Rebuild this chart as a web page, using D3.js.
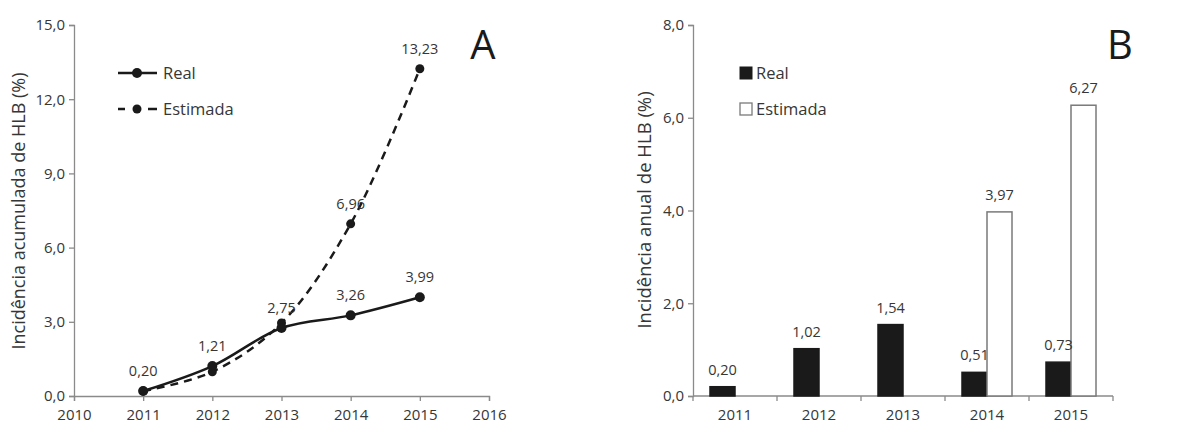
<!DOCTYPE html>
<html lang="pt">
<head>
<meta charset="utf-8">
<title>Incidência de HLB</title>
<script src="https://cdn.jsdelivr.net/npm/d3@7"></script>
<style>
  body { margin: 0; background: #fff; }
  svg text { font-family: "Open Sans", sans-serif; fill: #363636; }
  .axis path, .axis line { stroke: #8a8a8a; stroke-width: 1.3; }
  .axis text { font-size: 15px; }
</style>
</head>
<body>
<svg id="chart" width="1191" height="425"></svg>
<script>
// data
var years = [2011, 2012, 2013, 2014, 2015];
var realCum = [0.20, 1.21, 2.75, 3.26, 3.99];
var estCum = [0.20, 0.98, 2.95, 6.96, 13.23];
var realAnnual = [0.20, 1.02, 1.54, 0.51, 0.73];
var estAnnual = [null, null, null, 3.97, 6.27];
var yTicksA = [0, 3, 6, 9, 12, 15];
var xTicksA = [2010, 2011, 2012, 2013, 2014, 2015, 2016];
var yTicksB = [0, 2, 4, 6, 8];
var seriesNames = ["Real", "Estimada"];

var svg = d3.select("#chart");
var pt = d3.formatLocale({decimal: ",", thousands: ".", grouping: [3], currency: ["", ""]});
var f1 = pt.format(".1f"), f2 = pt.format(".2f");

// ---------- panel A : cumulative incidence ----------
var gA = svg.append("g");
var xA = d3.scaleLinear().domain([2010, 2016]).range([74, 489]);
var yA = d3.scaleLinear().domain([0, 15]).range([396, 25]);

gA.append("g").attr("class", "axis").attr("transform", "translate(0,396)")
  .call(d3.axisBottom(xA).tickValues(xTicksA).tickFormat(d3.format("d")).tickSizeOuter(5).tickSize(5).tickPadding(8));
gA.append("g").attr("class", "axis").attr("transform", "translate(74,0)")
  .call(d3.axisLeft(yA).tickValues(yTicksA).tickFormat(f1).tickSizeOuter(0).tickSize(5).tickPadding(4));

gA.append("text").attr("transform", "translate(25,211) rotate(-90)")
  .attr("text-anchor", "middle").style("font-size", "18px")
  .text("Incidência acumulada de HLB (%)");

var lineA = d3.line().x(function(d, i) { return xA(years[i]); }).y(function(d) { return yA(d); })
  .curve(d3.curveCatmullRom.alpha(0.5));

gA.append("path").datum(estCum).attr("d", lineA).attr("fill", "none")
  .attr("stroke", "#1a1a1a").attr("stroke-width", 2.5).attr("stroke-dasharray", "8,6");
gA.append("path").datum(realCum).attr("d", lineA).attr("fill", "none")
  .attr("stroke", "#1a1a1a").attr("stroke-width", 2.5);

gA.selectAll(".pe").data(estCum).enter().append("circle")
  .attr("cx", function(d, i) { return xA(years[i]); }).attr("cy", function(d) { return yA(d); })
  .attr("r", 4.5).attr("fill", "#1a1a1a");
gA.selectAll(".pr").data(realCum).enter().append("circle")
  .attr("cx", function(d, i) { return xA(years[i]); }).attr("cy", function(d) { return yA(d); })
  .attr("r", 5).attr("fill", "#1a1a1a");

// value labels: every real point, estimated only where it splits off
gA.selectAll(".lr").data(realCum).enter().append("text")
  .attr("x", function(d, i) { return xA(years[i]); }).attr("y", function(d) { return yA(d) - 15; })
  .attr("text-anchor", "middle").style("font-size", "14.5px").text(function(d) { return f2(d); });
gA.selectAll(".le").data(estCum.slice(3)).enter().append("text")
  .attr("x", function(d, i) { return xA(years[i + 3]); }).attr("y", function(d) { return yA(d) - 15; })
  .attr("text-anchor", "middle").style("font-size", "14.5px").text(function(d) { return f2(d); });

// legend A
var legA = gA.append("g");
legA.append("line").attr("x1", 118).attr("x2", 157).attr("y1", 73).attr("y2", 73)
  .attr("stroke", "#1a1a1a").attr("stroke-width", 2.5);
legA.append("circle").attr("cx", 137).attr("cy", 73).attr("r", 5).attr("fill", "#1a1a1a");
legA.append("line").attr("x1", 118).attr("x2", 157).attr("y1", 109).attr("y2", 109)
  .attr("stroke", "#1a1a1a").attr("stroke-width", 2.5).attr("stroke-dasharray", "7,23,9");
legA.append("circle").attr("cx", 137).attr("cy", 109).attr("r", 4.5).attr("fill", "#1a1a1a");
legA.selectAll("text").data(seriesNames).enter().append("text")
  .attr("x", 163).attr("y", function(d, i) { return 73 + i * 36; }).attr("dy", "0.35em")
  .style("font-size", "16.5px").text(function(d) { return d; });

gA.append("text").attr("x", 483).attr("y", 59).attr("text-anchor", "middle")
  .style("font-size", "40px").style("fill", "#1a1a1a").text("A");

// ---------- panel B : annual incidence ----------
var gB = svg.append("g");
var xB = d3.scaleBand().domain(years).range([693, 1113]).padding(0);
var x1 = d3.scaleBand().domain(seriesNames).range([0, xB.bandwidth()]).paddingInner(0).paddingOuter(0.68);
var yB = d3.scaleLinear().domain([0, 8]).range([396, 25]);

var xAxisB = gB.append("g").attr("class", "axis").attr("transform", "translate(0,396)")
  .call(d3.axisBottom(xB).tickSize(0).tickPadding(13));
// tick marks sit on category boundaries
xAxisB.selectAll(".bnd").data(years.concat([null])).enter().append("line")
  .attr("x1", function(d, i) { return 693 + i * xB.step(); })
  .attr("x2", function(d, i) { return 693 + i * xB.step(); })
  .attr("y1", 0).attr("y2", 5);
xAxisB.select(".domain").attr("d", "M693,0H1113");
gB.append("g").attr("class", "axis").attr("transform", "translate(693,0)")
  .call(d3.axisLeft(yB).tickValues(yTicksB).tickFormat(f1).tickSizeOuter(0).tickSize(5).tickPadding(4));

gB.append("text").attr("transform", "translate(651,210) rotate(-90)")
  .attr("text-anchor", "middle").style("font-size", "18.5px")
  .text("Incidência anual de HLB (%)");

var bars = [];
years.forEach(function(y, i) {
  bars.push({year: y, s: "Real", v: realAnnual[i]});
  if (estAnnual[i] != null) bars.push({year: y, s: "Estimada", v: estAnnual[i]});
});

gB.selectAll(".bar").data(bars).enter().append("rect")
  .attr("x", function(d) { return xB(d.year) + x1(d.s); })
  .attr("y", function(d) { return yB(d.v); })
  .attr("width", x1.bandwidth())
  .attr("height", function(d) { return yB(0) - yB(d.v); })
  .attr("fill", function(d) { return d.s === "Real" ? "#1a1a1a" : "#fff"; })
  .attr("stroke", function(d) { return d.s === "Real" ? "#1a1a1a" : "#7a7a7a"; })
  .attr("stroke-width", 1.5);

gB.selectAll(".bl").data(bars).enter().append("text")
  .attr("x", function(d) { return xB(d.year) + x1(d.s) + x1.bandwidth() / 2; })
  .attr("y", function(d) { return yB(d.v) - 12; })
  .attr("text-anchor", "middle").style("font-size", "14.5px").text(function(d) { return f2(d.v); });

// legend B
var legB = gB.append("g");
legB.append("rect").attr("x", 740).attr("y", 67).attr("width", 12).attr("height", 12)
  .attr("fill", "#1a1a1a").attr("stroke", "#1a1a1a");
legB.append("rect").attr("x", 740).attr("y", 103).attr("width", 12).attr("height", 12)
  .attr("fill", "#fff").attr("stroke", "#7a7a7a").attr("stroke-width", 1.3);
legB.selectAll("text").data(seriesNames).enter().append("text")
  .attr("x", 756).attr("y", function(d, i) { return 73 + i * 36; }).attr("dy", "0.35em")
  .style("font-size", "16.5px").text(function(d) { return d; });

gB.append("text").attr("x", 1107).attr("y", 59)
  .style("font-size", "40px").style("fill", "#1a1a1a").text("B");
</script>
</body>
</html>
